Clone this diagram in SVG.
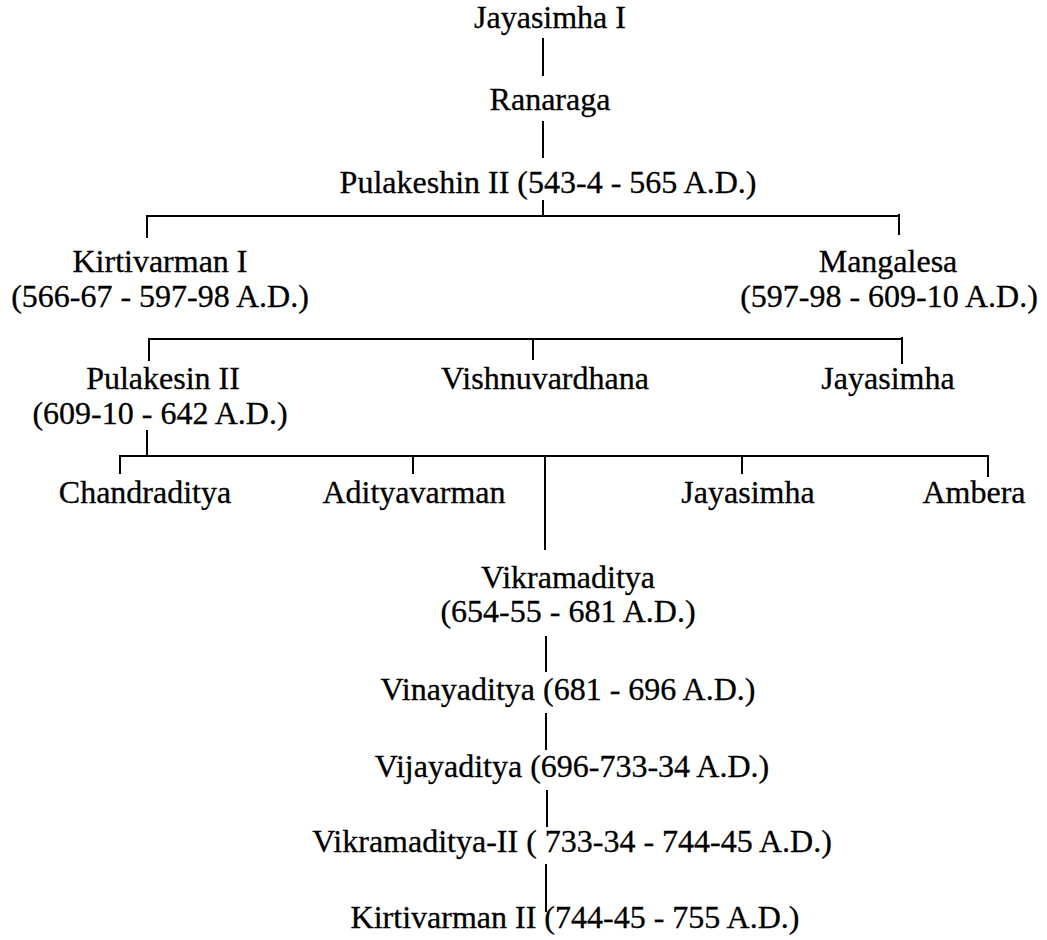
<svg xmlns="http://www.w3.org/2000/svg" width="1047" height="940" viewBox="0 0 1047 940">
<style>
text{font-family:"Liberation Serif","Times New Roman",serif;font-size:32px;fill:#000;stroke:#000;stroke-width:0.3;text-anchor:middle}
.c line{stroke:#000;stroke-width:2;fill:none}
</style>
<rect width="1047" height="940" fill="#fff"/>
<g class="c" id="connectors">
<line x1="543" y1="38" x2="543" y2="76"/>
<line x1="543" y1="121" x2="543" y2="158"/>
<line x1="543" y1="200" x2="543" y2="216"/>
<line x1="146" y1="216" x2="900" y2="216"/>
<line x1="147" y1="216" x2="147" y2="238"/>
<line x1="899" y1="214" x2="899" y2="235"/>
<line x1="148" y1="339" x2="903" y2="339"/>
<line x1="149" y1="339" x2="149" y2="361"/>
<line x1="533" y1="339" x2="533" y2="360"/>
<line x1="902" y1="337" x2="902" y2="364"/>
<line x1="147" y1="430" x2="147" y2="456"/>
<line x1="119" y1="456" x2="989" y2="456"/>
<line x1="120" y1="456" x2="120" y2="474"/>
<line x1="413" y1="456" x2="413" y2="474"/>
<line x1="545" y1="456" x2="545" y2="550"/>
<line x1="742" y1="456" x2="742" y2="474"/>
<line x1="988" y1="456" x2="988" y2="477"/>
<line x1="546" y1="636" x2="546" y2="672"/>
<line x1="546" y1="713" x2="546" y2="750"/>
<line x1="547" y1="790" x2="547" y2="827"/>
<line x1="546" y1="864" x2="546" y2="912"/>
</g>
<g id="n-jayasimha1"><text x="550" y="28">Jayasimha I</text></g>
<g id="n-ranaraga"><text x="550" y="110">Ranaraga</text></g>
<g id="n-pulakeshin"><text x="548" y="193">Pulakeshin II (543-4 - 565 A.D.)</text></g>
<g id="n-kirtivarman1"><text x="160" y="272">Kirtivarman I</text><text x="160" y="307">(566-67 - 597-98 A.D.)</text></g>
<g id="n-mangalesa"><text x="888" y="272">Mangalesa</text><text x="889" y="307">(597-98 - 609-10 A.D.)</text></g>
<g id="n-pulakesin2"><text x="163" y="389">Pulakesin II</text><text x="160" y="424">(609-10 - 642 A.D.)</text></g>
<g id="n-vishnuvardhana"><text x="545" y="389">Vishnuvardhana</text></g>
<g id="n-jayasimha-a"><text x="888" y="389">Jayasimha</text></g>
<g id="n-chandraditya"><text x="145" y="503">Chandraditya</text></g>
<g id="n-adityavarman"><text x="414" y="503">Adityavarman</text></g>
<g id="n-jayasimha-b"><text x="748" y="503">Jayasimha</text></g>
<g id="n-ambera"><text x="974" y="503">Ambera</text></g>
<g id="n-vikramaditya"><text x="568" y="588">Vikramaditya</text><text x="568" y="622">(654-55 - 681 A.D.)</text></g>
<g id="n-vinayaditya"><text x="568" y="700">Vinayaditya (681 - 696 A.D.)</text></g>
<g id="n-vijayaditya"><text x="572" y="777">Vijayaditya (696-733-34 A.D.)</text></g>
<g id="n-vikramaditya2"><text x="572" y="852">Vikramaditya-II ( 733-34 - 744-45 A.D.)</text></g>
<g id="n-kirtivarman2"><text x="575" y="928">Kirtivarman II (744-45 - 755 A.D.)</text></g>
</svg>
